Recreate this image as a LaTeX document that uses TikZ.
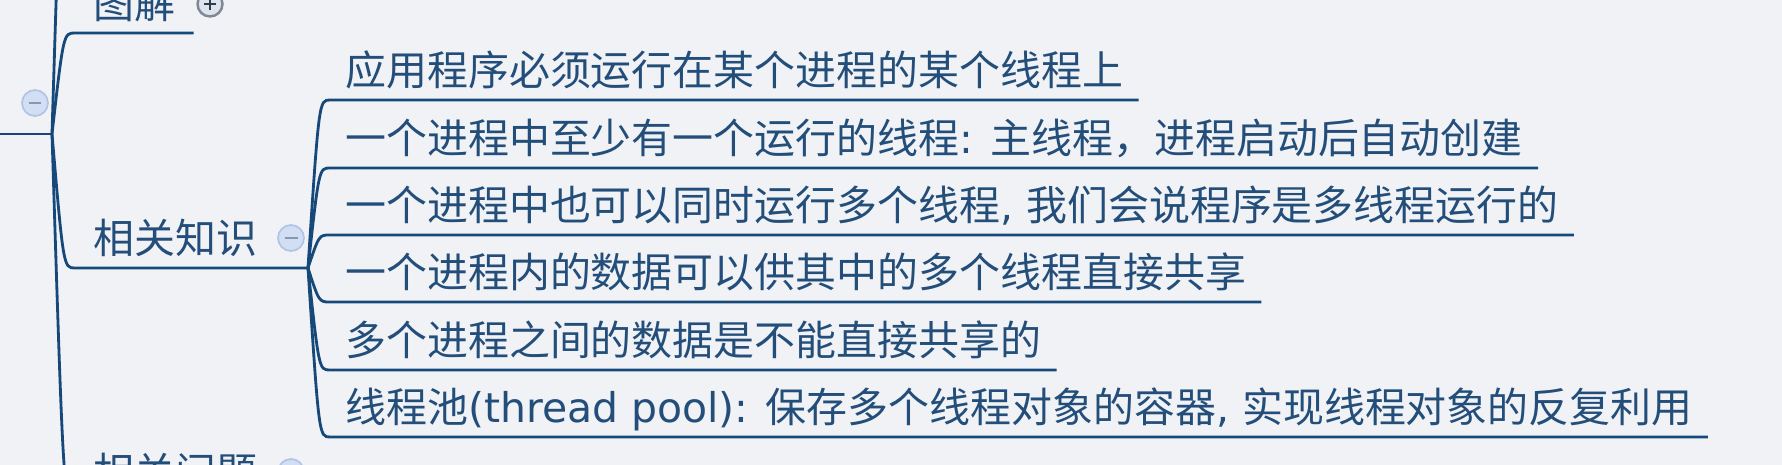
\documentclass[tikz,border=0pt]{standalone}
\usepackage{fontspec}
\setmainfont{Noto Sans CJK SC}
\newfontfamily\latfont{DejaVu Sans}
\usetikzlibrary{positioning,calc}
\definecolor{mapline}{RGB}{22,72,122}
\definecolor{maptext}{RGB}{36,78,122}
\definecolor{mapbg}{RGB}{240,242,246}
\definecolor{togfill}{RGB}{210,222,243}
\definecolor{togdraw}{RGB}{178,196,230}
\definecolor{togsign}{RGB}{136,150,175}
\definecolor{plusfill}{RGB}{222,228,237}
\definecolor{plusdraw}{RGB}{128,136,150}
\definecolor{plussign}{RGB}{46,58,72}
\newcommand{\lat}[1]{{\latfont #1}}

\begin{document}
\begin{tikzpicture}[x=0.02cm, y=-0.02cm, every node/.style={font=\fontsize{23.3pt}{28pt}\selectfont, text=maptext}]
  \tikzset{
    branch/.style={draw=mapline, line width=1.6pt},
    topic/.style={anchor=base west, inner xsep=0.36cm, inner ysep=0pt},
    leaf/.style={anchor=base west, inner xsep=0.3cm, inner ysep=0pt},
    minusbox/.style={circle, minimum size=0.52cm, inner sep=0pt, fill=togfill, draw=togdraw, line width=1pt,
      path picture={\draw[togsign, line width=1.6pt]
        ([xshift=-0.13cm]path picture bounding box.center) -- ([xshift=0.13cm]path picture bounding box.center);}},
    plusbox/.style={circle, minimum size=0.5cm, inner sep=0pt, fill=plusfill, draw=plusdraw, line width=1.4pt,
      path picture={\draw[plussign, line width=1.6pt]
        ([xshift=-0.12cm]path picture bounding box.center) -- ([xshift=0.12cm]path picture bounding box.center)
        ([yshift=-0.12cm]path picture bounding box.center) -- ([yshift=0.12cm]path picture bounding box.center);}}
  }
  \useasboundingbox (0,0) rectangle (1782,465);
  \fill[mapbg] (0,0) rectangle (1782,465);
  \clip (0,0) rectangle (1782,465);

  % Root and its topics
  \coordinate (rootin) at (0,134);
  \coordinate (root)   at (52,134);
  \coordinate (kup)    at (75,-240);
  \coordinate (kt)     at (75,33);
  \coordinate (kk)     at (75,268);
  \coordinate (kkend)  at (308,268);
  \coordinate (kq)     at (75,502);
  \coordinate (kqend)  at (308,502);

  \draw[branch] (rootin) -- (root);
  \node[minusbox] (roottog) at (35,103) {};

  \draw[branch] (root) .. controls ($(root |- kup)!0.5!(kup)$) .. (kup);

  \node[topic] (tt) at (75,19) {图解};
  \node[plusbox] (tttog) at (210,4) {};
  \draw[branch] (root) .. controls ($(root |- kt)!0.5!(kt)$) .. (kt) -- (kt -| tt.east);

  \node[topic] (tk) at (75,254) {相关知识};
  \node[minusbox] (tktog) at (291,238) {};
  \draw[branch] (root) .. controls ($(root |- kk)!0.5!(kk)$) .. (kk) -- (kkend);

  \node[topic] (tq) at (75,488) {相关问题};
  \node[minusbox] (tqtog) at (291,472) {};
  \draw[branch] (root) .. controls ($(root |- kq)!0.5!(kq)$) .. (kq) -- (kqend);

  % Children of the knowledge topic
  \coordinate (c1) at (330,100);
  \coordinate (c2) at (330,168);
  \coordinate (c3) at (330,235);
  \coordinate (c4) at (330,302);
  \coordinate (c5) at (330,370);
  \coordinate (c6) at (330,437);

  \node[leaf] (l1) at (330,86)  {应用程序必须运行在某个进程的某个线程上};
  \node[leaf] (l2) at (330,154) {一个进程中至少有一个运行的线程\lat{: }主线程，进程启动后自动创建};
  \node[leaf] (l3) at (330,221) {一个进程中也可以同时运行多个线程\lat{, }我们会说程序是多线程运行的};
  \node[leaf] (l4) at (330,288) {一个进程内的数据可以供其中的多个线程直接共享};
  \node[leaf] (l5) at (330,356) {多个进程之间的数据是不能直接共享的};
  \node[leaf] (l6) at (330,423) {线程池\lat{(thread pool): }保存多个线程对象的容器\lat{, }实现线程对象的反复利用};

  \draw[branch] (kkend) .. controls ($(kkend |- c1)!0.5!(c1)$) .. (c1) -- (c1 -| l1.east);
  \draw[branch] (kkend) .. controls ($(kkend |- c2)!0.5!(c2)$) .. (c2) -- (c2 -| l2.east);
  \draw[branch] (kkend) .. controls ($(kkend |- c3)!0.5!(c3)$) .. (c3) -- (c3 -| l3.east);
  \draw[branch] (kkend) .. controls ($(kkend |- c4)!0.5!(c4)$) .. (c4) -- (c4 -| l4.east);
  \draw[branch] (kkend) .. controls ($(kkend |- c5)!0.5!(c5)$) .. (c5) -- (c5 -| l5.east);
  \draw[branch] (kkend) .. controls ($(kkend |- c6)!0.5!(c6)$) .. (c6) -- (c6 -| l6.east);
\end{tikzpicture}
\end{document}
